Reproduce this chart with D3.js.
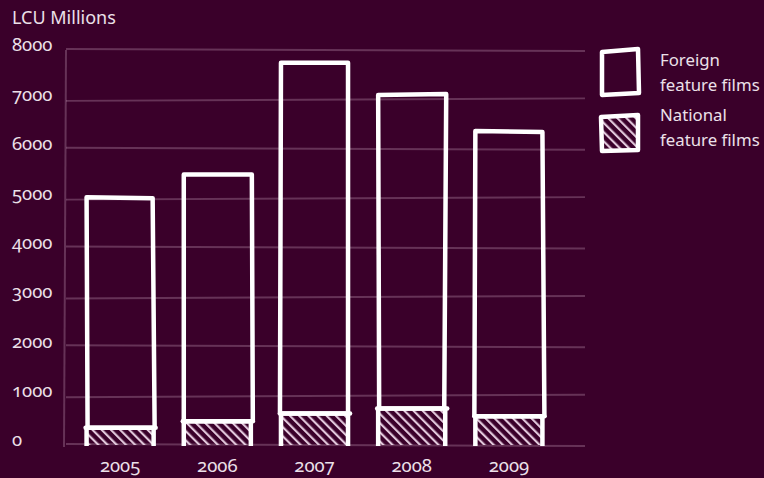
<!DOCTYPE html>
<html><head><meta charset="utf-8">
<script src="https://cdn.jsdelivr.net/npm/d3@7/dist/d3.min.js"></script>
<style>
html,body{margin:0;padding:0;background:#3a002a;}
svg text{font-family:"Noto Sans",Lato,sans-serif;font-weight:400;font-feature-settings:"onum" 1;font-variant-numeric:oldstyle-nums;fill:#ece0e9;}
</style></head>
<body><svg id="c" width="764" height="478"></svg>
<script>
const years = ["2005","2006","2007","2008","2009"];
const foreign = [4670, 5000, 7100, 6350, 5780];   // foreign part (stacked above national)
const national = [350, 480, 640, 740, 580];
const yTicks = [0,1000,2000,3000,4000,5000,6000,7000,8000];
const seriesNames = ["Foreign\nfeature films","National\nfeature films"];

const svg = d3.select("#c");
svg.append("rect").attr("width",764).attr("height",478).attr("fill","#3a002a");

const defs = svg.append("defs");
const pat = defs.append("pattern").attr("id","hatch").attr("patternUnits","userSpaceOnUse")
  .attr("width",6.5).attr("height",6.5).attr("patternTransform","rotate(-45)");
pat.append("line").attr("x1",2).attr("y1",-1).attr("x2",2).attr("y2",8)
  .attr("stroke","#e2c8dc").attr("stroke-width",2.2);

const x = d3.scaleBand().domain(years).range([72,557]).paddingInner(0.31).paddingOuter(0.15);
const y = d3.scaleLinear().domain([0,8000]).range([445,50]);

// gridlines
const grid = svg.append("g");
grid.selectAll("line").data(yTicks).join("line")
  .attr("x1",66).attr("x2",585)
  .attr("y1",(d,i)=>y(d)+ (i%2? 1.5:-1))
  .attr("y2",(d,i)=>y(d)+ (i%2? -1:1))
  .attr("stroke","rgba(235,200,225,0.25)").attr("stroke-width",2);
grid.append("line").attr("x1",66).attr("x2",64).attr("y1",y(8000)).attr("y2",y(0)+2)
  .attr("stroke","rgba(235,200,225,0.25)").attr("stroke-width",2);

// axis labels
const yAxis = d3.axisLeft(y).tickValues(yTicks).tickFormat(d3.format("d")).tickSize(0);
const ya = svg.append("g").attr("transform","translate(12,-5)").call(yAxis);
ya.select(".domain").remove();
ya.selectAll("text").attr("text-anchor","start").attr("x",0).attr("dy","0.32em")
  .style("font-size","18.5px");

const xAxis = d3.axisBottom(x).tickSize(0);
const xa = svg.append("g").attr("transform","translate(0,453)").call(xAxis);
xa.select(".domain").remove();
xa.selectAll("text").style("font-size","18.5px").attr("dy","0.85em");

svg.append("text").attr("x",12).attr("y",24).text("LCU Millions").style("font-size","18px");

// sketchy rect path with small fixed wobble
function rough(x0,y0,x1,y1,w){
  w = w || [0,0,0,0];
  return `M${x0+w[0]},${y1+1} L${x0},${y0} L${x1+w[1]},${y0+w[2]} L${x1+w[3]},${y1+1}`;
}
const wob = [[1,-1,1,1],[0,1,0,2],[-1,0,0,0],[1,1,-1,-1],[-1,0,1,2]];

const bars = svg.append("g");
years.forEach((yr,i)=>{
  const x0 = x(yr), x1 = x(yr)+x.bandwidth();
  const yN = y(national[i]);
  const yF = y(national[i]+foreign[i]);
  bars.append("rect").attr("x",x0).attr("y",yN).attr("width",x.bandwidth()).attr("height",y(0)-yN)
    .attr("fill","url(#hatch)");
  bars.append("path").attr("d",rough(x0,yN,x1,y(0),[0,0,0,0]))
    .attr("fill","none").attr("stroke","#fff").attr("stroke-width",4.5).attr("stroke-linejoin","round");
  bars.append("path").attr("d",rough(x0,yF,x1,yN,wob[i]))
    .attr("fill","none").attr("stroke","#fff").attr("stroke-width",4.5).attr("stroke-linejoin","round");
  bars.append("line").attr("x1",x0-1).attr("x2",x1+2).attr("y1",yN).attr("y2",yN)
    .attr("stroke","#fff").attr("stroke-width",4.5).attr("stroke-linecap","round");
});

// legend
const leg = svg.append("g");
leg.append("path").attr("d","M602,52 L638,49 L639,93 L602,95 Z")
  .attr("fill","none").attr("stroke","#fff").attr("stroke-width",4.5).attr("stroke-linejoin","round");
leg.append("path").attr("d","M601,117 L638,115 L638,150 L602,151 Z")
  .attr("fill","url(#hatch)").attr("stroke","#fff").attr("stroke-width",4.5).attr("stroke-linejoin","round");
seriesNames.forEach((n,i)=>{
  const t = leg.append("text").attr("x",660).attr("y",66+i*55).style("font-size","16.8px");
  n.split("\n").forEach((s,j)=>t.append("tspan").attr("x",660).attr("dy",j?25:0).text(s));
});
</script></body></html>
